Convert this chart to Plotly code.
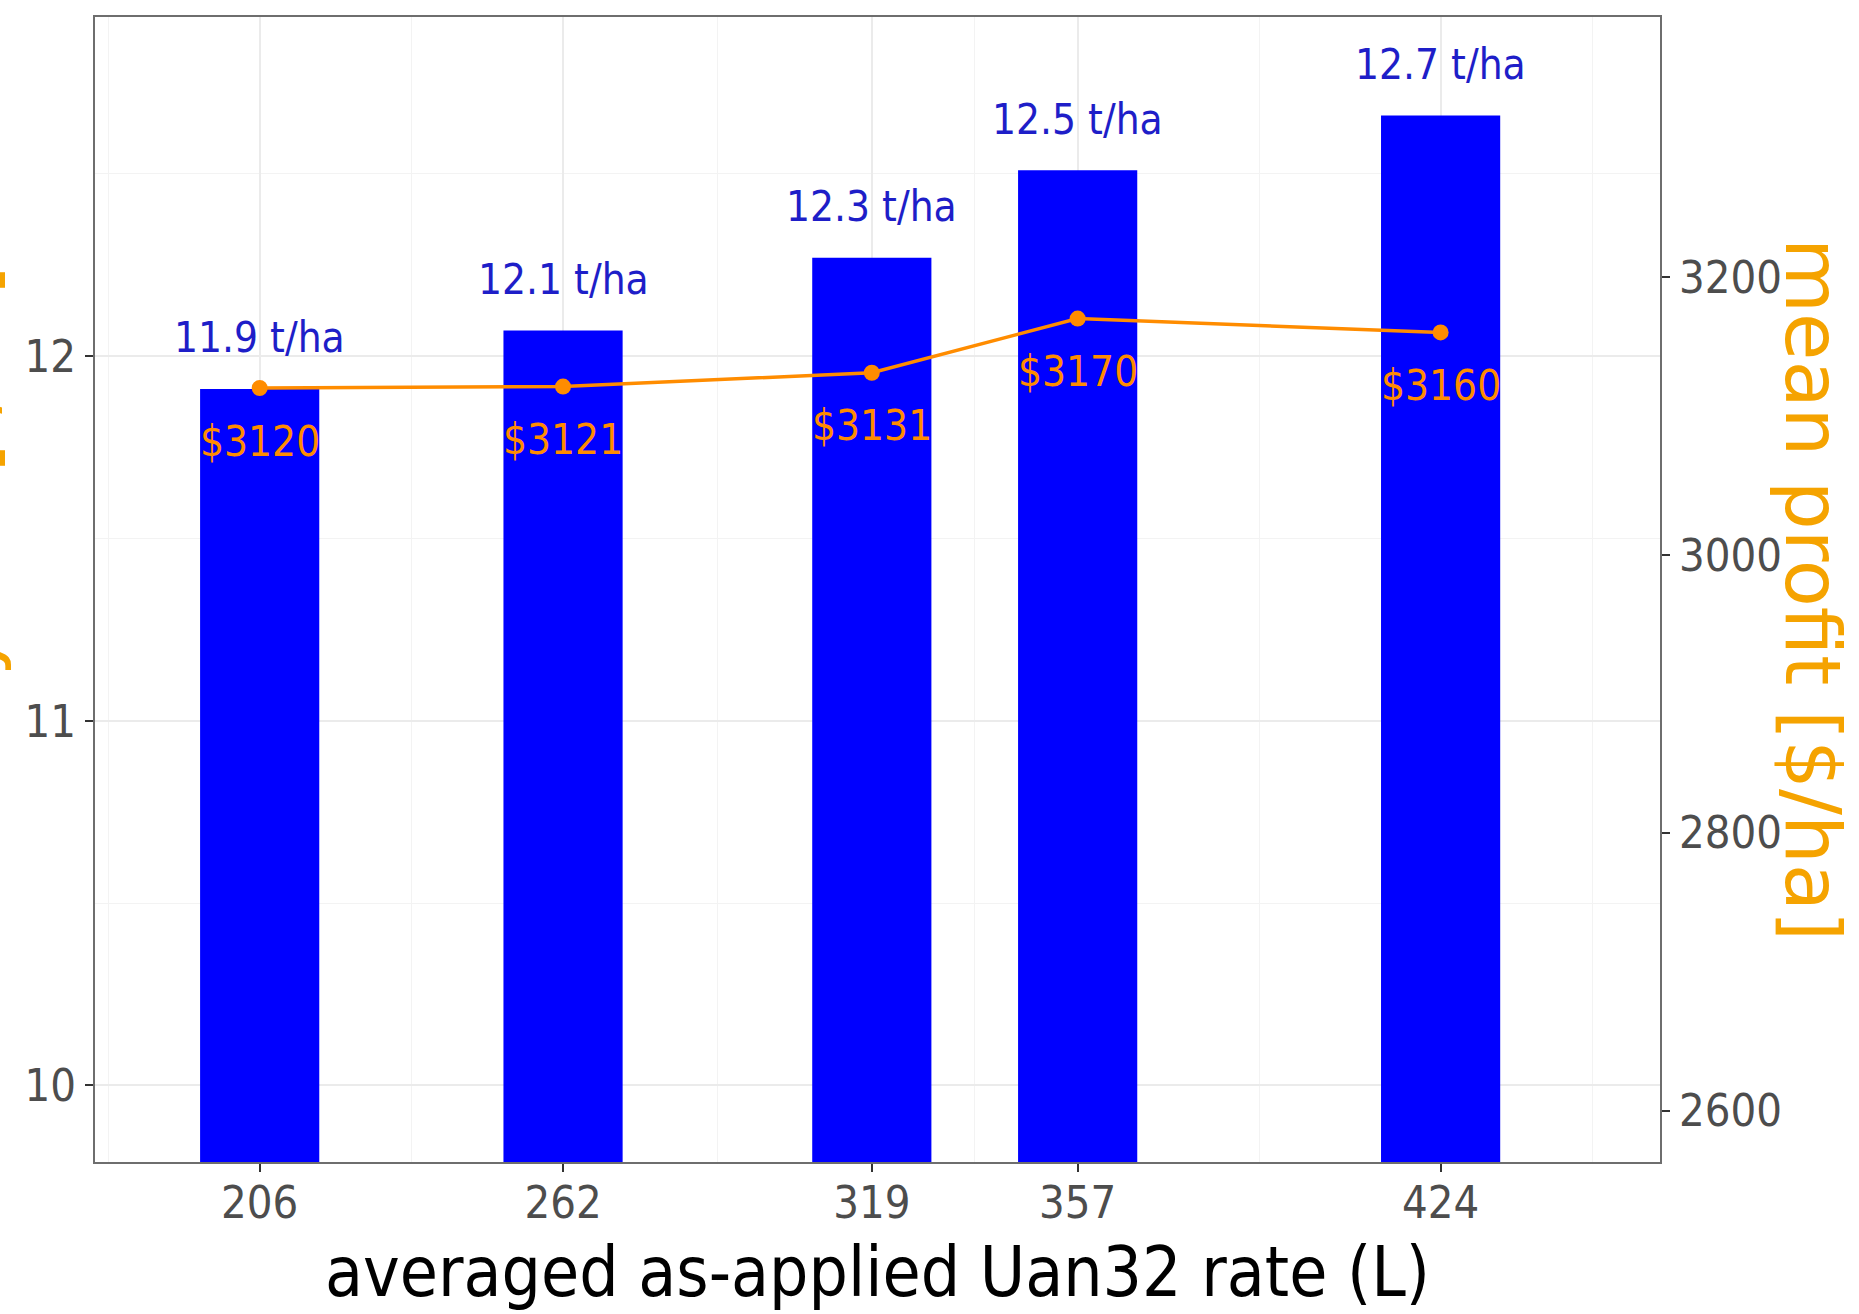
import plotly.graph_objects as go

# Averaged as-applied UAN32 rate per group (L) and the per-group means
rates = [206, 262, 319, 357, 424]
rate_labels = ["206", "262", "319", "357", "424"]
mean_yield = [11.91, 12.07, 12.27, 12.51, 12.66]      # t/ha
mean_profit = [3120, 3121, 3131, 3170, 3160]          # $/ha

yield_ticks = [10, 11, 12]
profit_ticks = [2600, 2800, 3000, 3200]

NARROW = "DejaVu Sans Condensed, DejaVu Sans, sans-serif"
WIDE = "DejaVu Sans, Liberation Sans, sans-serif"
BAR_BLUE = "#0000FF"
LABEL_BLUE = "#1E1EC8"
LINE_ORANGE = "#FF8C00"
TITLE_ORANGE = "#F5A300"
TICK_GREY = "#4D4D4D"
GRID = "#EBEBEB"
BORDER = "#6E6E6E"

L, R, T, B = 95, 199, 17, 152
W, H = 1859, 1314
plot_w = W - L - R
plot_h = H - T - B


def px_x(p):
    """Page pixel column -> paper x."""
    return (p - L) / plot_w


def px_y(p):
    """Page pixel row -> paper y."""
    return (H - B - p) / plot_h


fig = go.Figure()

fig.add_trace(go.Bar(
    x=rates, y=mean_yield, width=22,
    marker=dict(color=BAR_BLUE, line=dict(width=0)),
    hoverinfo="skip",
))

fig.add_trace(go.Scatter(
    x=rates, y=mean_profit, yaxis="y2",
    mode="lines+markers",
    line=dict(color=LINE_ORANGE, width=3.5),
    marker=dict(color=LINE_ORANGE, size=16),
    hoverinfo="skip",
))

annotations = []
for r, yv in zip(rates, mean_yield):
    annotations.append(dict(
        x=r, y=yv, xref="x", yref="y",
        text=f"{yv:.1f} t/ha", showarrow=False,
        xanchor="center", yanchor="middle", yshift=51,
        font=dict(family=NARROW, size=42, color=LABEL_BLUE),
    ))
for r, pv in zip(rates, mean_profit):
    annotations.append(dict(
        x=r, y=pv, xref="x", yref="y2",
        text=f"${pv}", showarrow=False,
        xanchor="center", yanchor="middle", yshift=-53,
        font=dict(family=NARROW, size=42, color=LINE_ORANGE),
    ))

# axis titles
annotations.append(dict(
    x=0.5, y=px_y(1272), xref="paper", yref="paper",
    text="averaged as-applied Uan32 rate (L)", showarrow=False,
    xanchor="center", yanchor="middle",
    font=dict(family=NARROW, size=69, color="#000000"),
))
annotations.append(dict(
    x=px_x(14), y=0.5, xref="paper", yref="paper",
    text="mean yield [t/ha]", textangle=-90, showarrow=False,
    xanchor="right", yanchor="middle",
    font=dict(family=WIDE, size=75, color=TITLE_ORANGE),
))
annotations.append(dict(
    x=px_x(1859), y=0.5, xref="paper", yref="paper",
    text="mean profit [$/ha]", textangle=90, showarrow=False,
    xanchor="right", yanchor="middle",
    font=dict(family=WIDE, size=77, color=TITLE_ORANGE),
))

axis_common = dict(
    ticks="outside", ticklen=8, tickwidth=2, tickcolor="#333333",
    showline=True, linecolor=BORDER, linewidth=2,
    zeroline=False,
    tickfont=dict(family=NARROW, size=45, color=TICK_GREY),
    automargin=False,
)

fig.update_layout(
    width=W, height=H,
    margin=dict(l=L, r=R, t=T, b=B, autoexpand=False),
    plot_bgcolor="white", paper_bgcolor="white",
    showlegend=False,
    annotations=annotations,
    xaxis=dict(
        range=[175.6, 464.5],
        tickmode="array", tickvals=rates, ticktext=rate_labels,
        mirror=True,
        showgrid=True, gridcolor=GRID, gridwidth=2,
        minor=dict(tickmode="array", tickvals=[178, 234, 290.5, 338, 390.5, 452],
                   showgrid=True, gridcolor="#F3F3F3", gridwidth=1, ticks=""),
        ticklabelstandoff=-8,
        **axis_common,
    ),
    yaxis=dict(
        range=[9.79, 12.93],
        tickmode="array", tickvals=yield_ticks,
        ticktext=[str(v) for v in yield_ticks],
        mirror=True,
        showgrid=True, gridcolor=GRID, gridwidth=2,
        minor=dict(tickmode="array", tickvals=[10.5, 11.5, 12.5],
                   showgrid=True, gridcolor="#F3F3F3", gridwidth=1, ticks=""),
        ticklabelstandoff=0,
        **axis_common,
    ),
    yaxis2=dict(
        range=[2563, 3387], overlaying="y", side="right",
        tickmode="array", tickvals=profit_ticks,
        ticktext=[str(v) for v in profit_ticks],
        showgrid=False,
        ticklabelstandoff=0,
        **axis_common,
    ),
)

fig.write_html("out.html")
